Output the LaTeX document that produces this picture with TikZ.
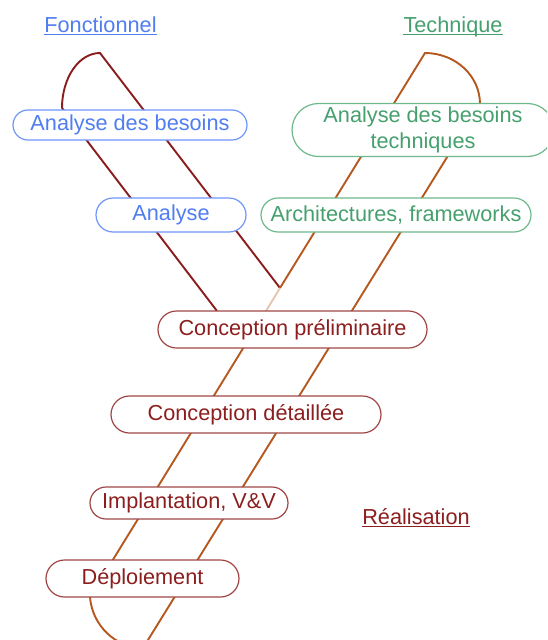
\documentclass[tikz,border=0pt]{standalone}
\usepackage{fontspec}
\setmainfont{Liberation Sans}
\usetikzlibrary{shapes.misc,backgrounds}
\definecolor{fblue}{RGB}{80,125,240}
\definecolor{fblueb}{RGB}{110,150,250}
\definecolor{tgreen}{RGB}{70,160,110}
\definecolor{tgreenb}{RGB}{110,185,140}
\definecolor{rred}{RGB}{140,30,30}
\definecolor{rredb}{RGB}{160,70,70}
\definecolor{fline}{RGB}{139,28,28}
\definecolor{tline}{RGB}{181,88,31}
\begin{document}
\begin{tikzpicture}[x=1pt,y=-1pt,
  phase/.style={rounded rectangle, fill=white, line width=1.2pt, inner sep=0pt,
    font=\fontsize{21.7}{26}\selectfont, align=center},
  fbox/.style={phase, draw=fblueb, text=fblue},
  tbox/.style={phase, draw=tgreenb, text=tgreen},
  rbox/.style={phase, draw=rredb, text=rred},
  title/.style={inner sep=0pt, anchor=base, font=\fontsize{21.7}{26}\selectfont},
  fpath/.style={draw=fline, line width=1.9pt},
  tpath/.style={draw=tline, line width=1.9pt}
]
\clip (0,0) rectangle (547,640);

% titles
\node[title, text=fblue] (fon) at (100.5,32) {Fonctionnel};
\node[title, text=tgreen] (tec) at (453,32) {Technique};
\node[title, text=rred] (rea) at (416,524) {Réalisation};
\draw[fblue, line width=1pt] ([yshift=-2.5pt]fon.base west) -- ([yshift=-2.5pt]fon.base east);
\draw[tgreen, line width=1pt] ([yshift=-2.5pt]tec.base west) -- ([yshift=-2.5pt]tec.base east);
\draw[rred, line width=1pt] ([yshift=-2.5pt]rea.base west) -- ([yshift=-2.5pt]rea.base east);

% phases
\node[fbox, minimum width=234pt, minimum height=30pt] (adb) at (130,125) {Analyse des besoins};
\node[fbox, minimum width=150pt, minimum height=34pt] (ana) at (171,215) {Analyse};
\node[tbox, minimum width=262pt, minimum height=53pt] (adbt) at (423,130) {Analyse des besoins\\techniques};
\node[tbox, minimum width=270pt, minimum height=34pt] (arch) at (396,215) {Architectures, frameworks};
\node[rbox, minimum width=269pt, minimum height=37pt] (cp) at (292.5,329.5) {Conception préliminaire};
\node[rbox, minimum width=270pt, minimum height=37pt] (cd) at (246,414.5) {Conception détaillée};
\node[rbox, minimum width=198pt, minimum height=32pt] (ivv) at (189,503) {Implantation, V\&V};
\node[rbox, minimum width=193pt, minimum height=37pt] (dep) at (142.5,578.5) {Déploiement};

% the Y-shaped process lines
\begin{scope}[on background layer]
  \coordinate (fa) at (62,108);
  \coordinate (fb) at (100,53);
  \coordinate (fj) at (280,288);
  \coordinate (fl) at (217,311);
  \path[fpath] (fa) .. controls (62,77.6) and (79,53) .. (fb) -- (fj);
  \path[fpath] (fa) -- (fl);
  \coordinate (ta) at (425,53);
  \coordinate (tb) at (480,104);
  \coordinate (tc) at (266,311);
  \coordinate (td) at (90,597);
  \coordinate (te) at (143,648);
  \path[tpath] (tb) .. controls (480,75.8) and (455.4,53) .. (ta) -- (fj);
  \path[draw=tline!35, line width=1.9pt] (fj) -- (tc);
  \path[tpath] (tc) -- (td) .. controls (92,625) and (115.4,648) .. (te) -- (tb);
\end{scope}
\end{tikzpicture}
\end{document}
